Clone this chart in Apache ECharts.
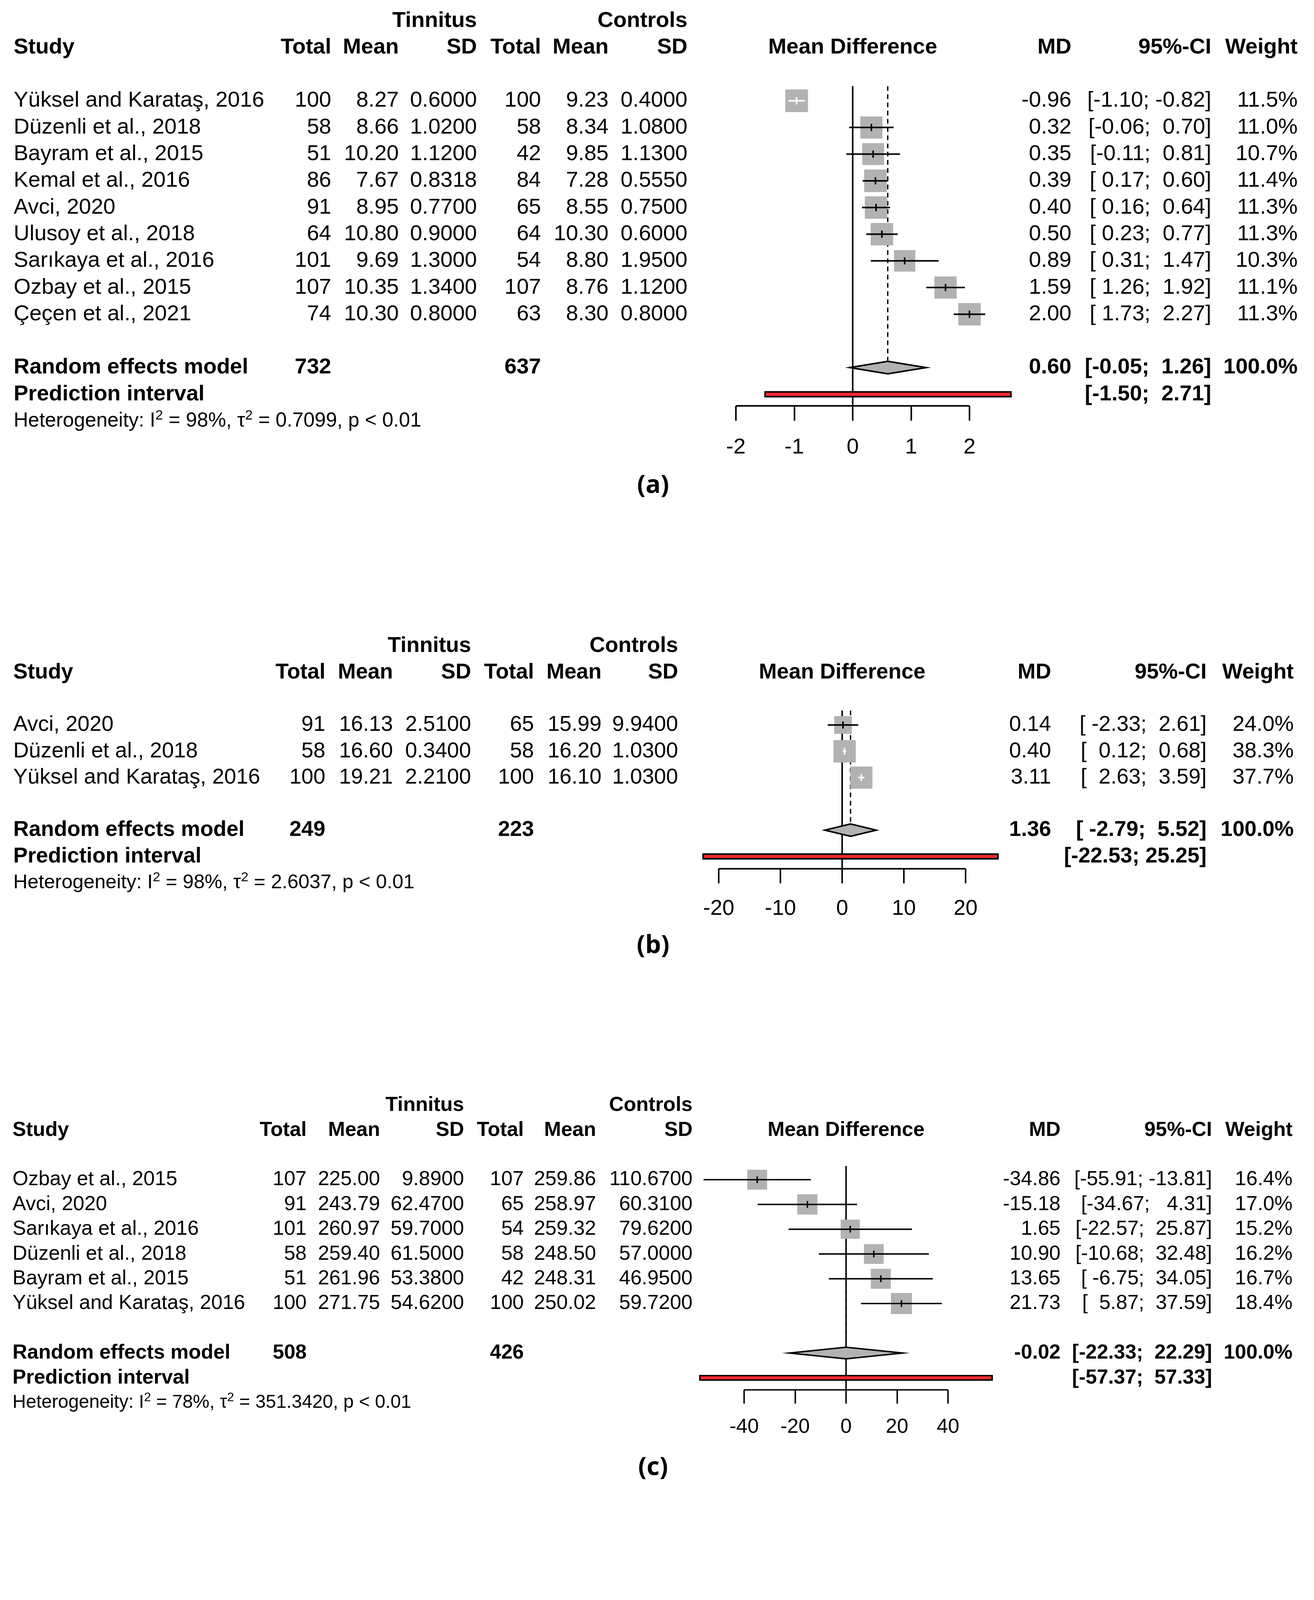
<!DOCTYPE html>
<html><head><meta charset="utf-8">
<script src="https://cdn.jsdelivr.net/npm/echarts@6/dist/echarts.min.js"></script>
<style>html,body{margin:0;padding:0;background:#fff}#c{width:3364px;height:5263px}</style>
</head><body><div id="c"></div>
<script>
// ---------------- Panel (a) ----------------
const aStudy = ["Yüksel and Karataş, 2016","Düzenli et al., 2018","Bayram et al., 2015","Kemal et al., 2016","Avci, 2020","Ulusoy et al., 2018","Sarıkaya et al., 2016","Ozbay et al., 2015","Çeçen et al., 2021"];
const aTinTotal = [100,58,51,86,91,64,101,107,74];
const aTinMean = [8.27,8.66,10.20,7.67,8.95,10.80,9.69,10.35,10.30];
const aTinSD = [0.6000,1.0200,1.1200,0.8318,0.7700,0.9000,1.3000,1.3400,0.8000];
const aConTotal = [100,58,42,84,65,64,54,107,63];
const aConMean = [9.23,8.34,9.85,7.28,8.55,10.30,8.80,8.76,8.30];
const aConSD = [0.4000,1.0800,1.1300,0.5550,0.7500,0.6000,1.9500,1.1200,0.8000];
const aMD = [-0.96,0.32,0.35,0.39,0.40,0.50,0.89,1.59,2.00];
const aLower = [-1.10,-0.06,-0.11,0.17,0.16,0.23,0.31,1.26,1.73];
const aUpper = [-0.82,0.70,0.81,0.60,0.64,0.77,1.47,1.92,2.27];
const aWeight = [11.5,11.0,10.7,11.4,11.3,11.3,10.3,11.1,11.3];
const aRandom = [0.60,-0.05,1.26];
const aPredict = [-1.50,2.71];
const aTotals = [732,637];
const aHet = ["98%","0.7099","p < 0.01"];
const aTicks = [-2,-1,0,1,2];
const aTickLabels = ["-2","-1","0","1","2"];

// ---------------- Panel (b) ----------------
const bStudy = ["Avci, 2020","Düzenli et al., 2018","Yüksel and Karataş, 2016"];
const bTinTotal = [91,58,100];
const bTinMean = [16.13,16.60,19.21];
const bTinSD = [2.5100,0.3400,2.2100];
const bConTotal = [65,58,100];
const bConMean = [15.99,16.20,16.10];
const bConSD = [9.9400,1.0300,1.0300];
const bMD = [0.14,0.40,3.11];
const bLower = [-2.33,0.12,2.63];
const bUpper = [2.61,0.68,3.59];
const bWeight = [24.0,38.3,37.7];
const bRandom = [1.36,-2.79,5.52];
const bPredict = [-22.53,25.25];
const bTotals = [249,223];
const bHet = ["98%","2.6037","p < 0.01"];
const bTicks = [-20,-10,0,10,20];
const bTickLabels = ["-20","-10","0","10","20"];

// ---------------- Panel (c) ----------------
const cStudy = ["Ozbay et al., 2015","Avci, 2020","Sarıkaya et al., 2016","Düzenli et al., 2018","Bayram et al., 2015","Yüksel and Karataş, 2016"];
const cTinTotal = [107,91,101,58,51,100];
const cTinMean = [225.00,243.79,260.97,259.40,261.96,271.75];
const cTinSD = [9.8900,62.4700,59.7000,61.5000,53.3800,54.6200];
const cConTotal = [107,65,54,58,42,100];
const cConMean = [259.86,258.97,259.32,248.50,248.31,250.02];
const cConSD = [110.6700,60.3100,79.6200,57.0000,46.9500,59.7200];
const cMD = [-34.86,-15.18,1.65,10.90,13.65,21.73];
const cLower = [-55.91,-34.67,-22.57,-10.68,-6.75,5.87];
const cUpper = [-13.81,4.31,25.87,32.48,34.05,37.59];
const cWeight = [16.4,17.0,15.2,16.2,16.7,18.4];
const cRandom = [-0.02,-22.33,22.29];
const cPredict = [-57.37,57.33];
const cTotals = [508,426];
const cHet = ["78%","351.3420","p < 0.01"];
const cTicks = [-40,-20,0,20,40];
const cTickLabels = ["-40","-20","0","20","40"];

// ---------------- Panel (d) ----------------
const dStudy = ["Düzenli et al., 2018","Ozbay et al., 2015","Çeçen et al., 2021","Avci, 2020","Bayram et al., 2015","Bayraktar and Taşolar, 2017","Yildiz er al., 2020"];
const dTinTotal = [58,107,74,91,51,40,287];
const dTinMean = [1.87,2.07,2.20,1.89,2.04,1.92,1.95];
const dTinSD = [0.5100,1.4300,1.1000,0.6300,0.6600,0.6000,1.0200];
const dConTotal = [58,107,63,65,42,40,257];
const dConMean = [2.68,2.14,2.20,1.88,2.00,1.80,1.67];
const dConSD = [1.2000,1.3100,1.1000,0.7500,0.6500,0.7000,0.5700];
const dMD = [-0.81,-0.07,0.00,0.01,0.04,0.12,0.28];
const dLower = [-1.15,-0.44,-0.37,-0.21,-0.23,-0.17,0.14];
const dUpper = [-0.47,0.30,0.37,0.23,0.31,0.41,0.42];
const dWeight = [13.4,12.8,12.8,15.4,14.7,14.3,16.7];
const dRandom = [-0.05,-0.36,0.27];
const dPredict = [-0.91,0.81];
const dTotals = [708,632];
const dHet = ["84%","0.0951","p < 0.01"];
const dTicks = [-1,-0.5,0,0.5,1];
const dTickLabels = ["-1","-0.5","0","0.5","1"];

const panelLabels = ["(a)","(b)","(c)","(d)"];

// ---------------- styling / layout ----------------
const GRAY = '#b2b2b2';
const RED = '#ee2a2e';
const FONT = '"Liberation Sans", Arial, Helvetica, sans-serif';
const LABEL_FONT = '"Open Sans", "Noto Sans", sans-serif';

const panels = [
  {study:aStudy,tt:aTinTotal,tm:aTinMean,ts:aTinSD,ct:aConTotal,cm:aConMean,cs:aConSD,md:aMD,lo:aLower,hi:aUpper,w:aWeight,re:aRandom,pi:aPredict,tot:aTotals,het:aHet,ticks:aTicks,tl:aTickLabels},
  {study:bStudy,tt:bTinTotal,tm:bTinMean,ts:bTinSD,ct:bConTotal,cm:bConMean,cs:bConSD,md:bMD,lo:bLower,hi:bUpper,w:bWeight,re:bRandom,pi:bPredict,tot:bTotals,het:bHet,ticks:bTicks,tl:bTickLabels},
  {study:cStudy,tt:cTinTotal,tm:cTinMean,ts:cTinSD,ct:cConTotal,cm:cConMean,cs:cConSD,md:cMD,lo:cLower,hi:cUpper,w:cWeight,re:cRandom,pi:cPredict,tot:cTotals,het:cHet,ticks:cTicks,tl:cTickLabels},
  {study:dStudy,tt:dTinTotal,tm:dTinMean,ts:dTinSD,ct:dConTotal,cm:dConMean,cs:dConSD,md:dMD,lo:dLower,hi:dUpper,w:dWeight,re:dRandom,pi:dPredict,tot:dTotals,het:dHet,ticks:dTicks,tl:dTickLabels}
];
const layouts = [
  {r0:258, s:68.3, axisY:1039, x0:1884, x1:2482, cols:[35,848,1021,1221,1385,1558,1760,2743,3101,3322], labelY:1244},
  {r0:1856, s:67.3, axisY:2224, x0:1840, x1:2472, cols:[34,833,1006,1206,1367,1540,1736,2691,3089,3312], labelY:2422},
  {r0:3020, s:63.4, axisY:3558, x0:1905, x1:2427, cols:[32,785,973,1188,1341,1526,1773,2715,3103,3309], labelY:3758},
  {r0:4376, s:67.3, axisY:5008, x0:1856, x1:2546, cols:[32,892,1061,1260,1417,1586,1785,2749,3095,3313], labelY:5203}
];

function padCol(arr, d) {
  const s = arr.map(v => v.toFixed(d));
  const w = Math.max(...s.map(t => t.length));
  return s.map(t => t.padStart(w, ' '));
}

const option = {animation:false, backgroundColor:'#fff', grid:[], xAxis:[], yAxis:[], series:[], graphic:[]};

panels.forEach((P, gi) => {
  const L = layouts[gi];
  const n = P.study.length;
  const s = L.s;
  const fs = +(s * 0.82).toFixed(1);
  const hs = +(fs * 0.917).toFixed(1);
  const lw = 4 * s / 68.3;
  const yMin = -0.55;
  const top = L.r0 + yMin * s;
  const height = L.axisY - top;
  const yMax = yMin + height / s;
  const wmax = Math.max(...P.w);
  const ticks = P.ticks;

  option.grid.push({left:L.x0, top:top, width:L.x1 - L.x0, height:height, containLabel:false, outerBoundsMode:'none'});
  option.xAxis.push({
    gridIndex:gi, type:'value', min:ticks[0], max:ticks[ticks.length-1], interval:ticks[1]-ticks[0],
    splitLine:{show:false},
    axisLine:{show:true, onZero:false, lineStyle:{color:'#000', width:lw, cap:'butt'}},
    axisTick:{show:true, inside:false, length:38 * s / 68.3, lineStyle:{color:'#000', width:lw}},
    axisLabel:{show:true, color:'#000', fontFamily:FONT, fontSize:fs, verticalAlign:'middle',
      margin:L.r0 + (n + 4) * s - L.axisY, showMinLabel:true, showMaxLabel:true,
      formatter: v => { const i = ticks.findIndex(t => Math.abs(t - v) < 1e-9); return i >= 0 ? P.tl[i] : ''; }}
  });
  option.yAxis.push({gridIndex:gi, type:'value', inverse:true, min:yMin, max:yMax, show:false, splitLine:{show:false}});

  // reference line at 0
  option.series.push({type:'line', xAxisIndex:gi, yAxisIndex:gi, data:[[0,yMin],[0,yMax]], symbol:'none', silent:true, z:1,
    lineStyle:{color:'#000', width:lw}});
  // dashed line at pooled estimate
  option.series.push({type:'line', xAxisIndex:gi, yAxisIndex:gi, data:[[P.re[0],yMin],[P.re[0],n+1]], symbol:'none', silent:true, z:1,
    lineStyle:{color:'#000', width:lw*0.85, type:[12,9]}});

  // studies: squares + CI
  option.series.push({
    type:'custom', xAxisIndex:gi, yAxisIndex:gi, z:3, silent:true,
    data: P.md.map((m, i) => [m, P.lo[i], P.hi[i], P.w[i], i]),
    encode:{x:[0,1,2], y:4},
    renderItem:(params, api) => {
      const row = api.value(4);
      const c = api.coord([api.value(0), row]);
      const l = api.coord([api.value(1), row]);
      const h = api.coord([api.value(2), row]);
      const rowH = api.size([0,1])[1];
      const side = 0.85 * rowH * Math.sqrt(api.value(3) / wmax);
      const inside = l[0] > c[0] - side/2 && h[0] < c[0] + side/2;
      const col = inside ? '#fff' : '#000';
      const tk = 0.27 * rowH;
      return {type:'group', children:[
        {type:'rect', shape:{x:c[0]-side/2, y:c[1]-side/2, width:side, height:side}, style:{fill:GRAY}},
        {type:'line', shape:{x1:l[0], y1:c[1], x2:h[0], y2:c[1]}, style:{stroke:col, lineWidth:lw}},
        {type:'line', shape:{x1:c[0], y1:c[1]-tk/2, x2:c[0], y2:c[1]+tk/2}, style:{stroke:col, lineWidth:lw}}
      ]};
    }
  });
  // pooled diamond
  option.series.push({
    type:'custom', xAxisIndex:gi, yAxisIndex:gi, z:3, silent:true,
    data:[[P.re[0], P.re[1], P.re[2], n+1]],
    encode:{x:[0,1,2], y:3},
    renderItem:(params, api) => {
      const row = api.value(3);
      const c = api.coord([api.value(0), row]);
      const l = api.coord([api.value(1), row]);
      const h = api.coord([api.value(2), row]);
      const hh = 0.235 * api.size([0,1])[1];
      return {type:'polygon', shape:{points:[[l[0],c[1]],[c[0],c[1]-hh],[h[0],c[1]],[c[0],c[1]+hh]]},
        style:{fill:GRAY, stroke:'#000', lineWidth:lw, lineJoin:'miter'}};
    }
  });
  // prediction interval bar
  option.series.push({
    type:'custom', xAxisIndex:gi, yAxisIndex:gi, z:3, silent:true,
    data:[[P.pi[0], P.pi[1], n+2]],
    encode:{x:[0,1], y:2},
    renderItem:(params, api) => {
      const row = api.value(2);
      const l = api.coord([api.value(0), row]);
      const h = api.coord([api.value(1), row]);
      const bh = 0.18 * api.size([0,1])[1];
      return {type:'rect', shape:{x:l[0], y:l[1]-bh/2, width:h[0]-l[0], height:bh},
        style:{fill:RED, stroke:'#000', lineWidth:lw}};
    }
  });

  // ---- table text ----
  const C = L.cols;
  const loS = padCol([...P.lo, P.re[1], P.pi[0]], 2);
  const hiS = padCol([...P.hi, P.re[2], P.pi[1]], 2);
  const ci = loS.map((t, i) => '[' + t + '; ' + hiS[i] + ']');
  const items = [];
  const T = (x, row, text, align, bold, extra) => items.push(Object.assign({x, row, text, align, bold}, extra || {}));
  T(C[3], -3, 'Tinnitus', 'right', true);
  T(C[6], -3, 'Controls', 'right', true);
  T(C[0], -2, 'Study', 'left', true);
  T(C[1], -2, 'Total', 'right', true);
  T(C[2], -2, 'Mean', 'right', true);
  T(C[3], -2, 'SD', 'right', true);
  T(C[4], -2, 'Total', 'right', true);
  T(C[5], -2, 'Mean', 'right', true);
  T(C[6], -2, 'SD', 'right', true);
  T('zero', -2, 'Mean Difference', 'center', true);
  T(C[7], -2, 'MD', 'right', true);
  T(C[8], -2, '95%-CI', 'right', true);
  T(C[9], -2, 'Weight', 'right', true);
  for (let i = 0; i < n; i++) {
    T(C[0], i, P.study[i], 'left', false);
    T(C[1], i, String(P.tt[i]), 'right', false);
    T(C[2], i, P.tm[i].toFixed(2), 'right', false);
    T(C[3], i, P.ts[i].toFixed(4), 'right', false);
    T(C[4], i, String(P.ct[i]), 'right', false);
    T(C[5], i, P.cm[i].toFixed(2), 'right', false);
    T(C[6], i, P.cs[i].toFixed(4), 'right', false);
    T(C[7], i, P.md[i].toFixed(2), 'right', false);
    T(C[8], i, ci[i], 'right', false);
    T(C[9], i, P.w[i].toFixed(1) + '%', 'right', false);
  }
  T(C[0], n+1, 'Random effects model', 'left', true);
  T(C[1], n+1, String(P.tot[0]), 'right', true);
  T(C[4], n+1, String(P.tot[1]), 'right', true);
  T(C[7], n+1, P.re[0].toFixed(2), 'right', true);
  T(C[8], n+1, ci[n], 'right', true);
  T(C[9], n+1, '100.0%', 'right', true);
  T(C[0], n+2, 'Prediction interval', 'left', true);
  T(C[8], n+2, ci[n+1], 'right', true);
  T(C[0], n+3, '{a|Heterogeneity: I}{s|2}{a| = ' + P.het[0] + ', \u03c4}{s|2}{a| = ' + P.het[1] + ', ' + P.het[2] + '}', 'left', false, {
    rich:{
      a:{fontSize:hs, fontFamily:FONT, fill:'#000', lineHeight:Math.round(hs*1.2)},
      s:{fontSize:Math.round(hs*0.68), fontFamily:FONT, fill:'#000', lineHeight:Math.round(hs*0.68), verticalAlign:'top'}
    }});

  option.series.push({
    type:'custom', xAxisIndex:gi, yAxisIndex:gi, z:4, silent:true,
    data: items.map(t => [0, t.row]),
    renderItem:(params, api) => {
      const t = items[params.dataIndex];
      const p = api.coord([0, api.value(1)]);
      const x = t.x === 'zero' ? p[0] : t.x;
      const style = {text:t.text, fill:'#000', fontFamily:FONT, fontSize:fs, fontWeight:t.bold ? 'bold' : 'normal',
        align:t.align, verticalAlign:'middle'};
      if (t.rich) style.rich = t.rich;
      return {type:'text', x:x, y:p[1], style:style};
    }
  });

  option.graphic.push({type:'text', x:1672, y:L.labelY, silent:true,
    style:{text:panelLabels[gi], fill:'#000', fontFamily:LABEL_FONT, fontWeight:'bold', fontSize:64, align:'center', verticalAlign:'middle'}});
});

const chart = echarts.init(document.getElementById('c'), null, {renderer:'canvas', width:3364, height:5263});
chart.setOption(option);
</script>
</body></html>
